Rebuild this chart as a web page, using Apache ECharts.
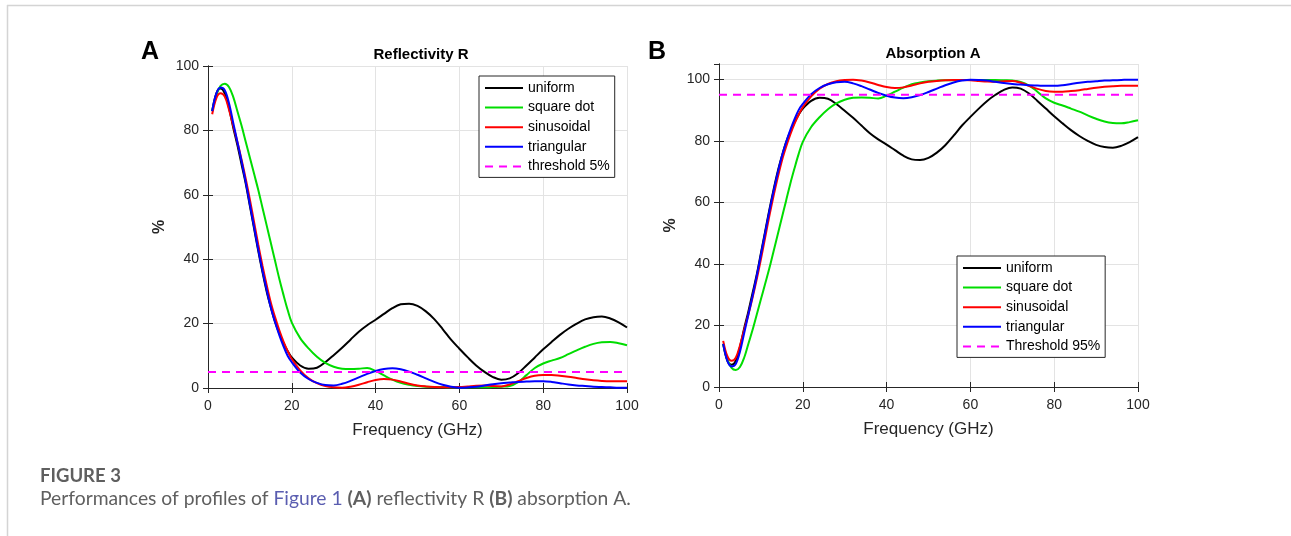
<!DOCTYPE html>
<html>
<head>
<meta charset="utf-8">
<script src="https://cdn.jsdelivr.net/npm/echarts@6/dist/echarts.min.js"></script>
<style>
html,body{margin:0;padding:0;background:#fff;}
#chart{width:1291px;height:536px;}
</style>
</head>
<body>
<div id="chart"></div>
<script>
// ---- Data ----
const freq = [1,2,3,4,5,6,7,8,9,10,11,12,13,14,15,16,17,18,19,20,
  22,24,26,28,30,32,34,36,38,40,42,44,46,48,50,52,54,56,58,60,
  62,64,66,68,70,72,74,76,78,80,82,84,86,88,90,92,94,96,98,100];

// Reflectivity R (%)
const rUniform = [86,91.5,93,91.5,87,81,75.5,69.5,63.5,56.5,49.5,42.5,36,30,25,20.5,17,14,11.5,9.5,
  7,6,6.3,8,10.2,12.5,15,17.5,19.5,21.2,23,24.8,26,26.2,25.5,23.8,21.4,18.3,15,12.2,
  9.5,7,5,3.4,2.6,3,4.6,7,9.5,12,14.3,16.5,18.4,20,21.3,22,22.2,21.6,20.4,18.8];
const rSquare = [86,91,93.8,94.5,93.5,90.5,86,81.5,76.5,71.5,66.5,61.5,56,50.5,45,39.5,34,29,24.3,20.3,
  15.5,12.3,9.7,7.8,6.6,6,5.9,6,6.2,5.3,3.9,2.6,1.6,1,0.6,0.4,0.3,0.3,0.2,0.2,
  0.2,0.2,0.2,0.3,0.4,0.6,1.8,4,6.2,7.6,8.5,9.3,10.5,11.7,12.8,13.7,14.2,14.3,13.9,13.3];
const rSinus = [85,90,91.5,90.5,86.5,81.5,76.5,71,65,58.5,51.5,44.5,38,32,26.5,22,18,14.5,11.5,9,
  5.5,3,1.5,0.6,0.2,0.1,0.4,1,1.8,2.5,2.8,2.6,2,1.3,0.8,0.5,0.3,0.2,0.2,0.3,
  0.5,0.7,0.8,0.6,0.5,1.1,2.1,3.1,3.8,4,4,3.8,3.5,3.1,2.7,2.4,2.2,2.1,2.1,2.1];
const rTriang = [86,91.5,93.3,92.5,88.5,82.5,76.5,70.5,64,57,50,43,36.5,30.5,25,20.5,16.5,13,10,8,
  4.8,2.8,1.6,0.9,0.8,1.3,2.2,3.3,4.4,5.3,5.9,6.1,5.8,5.1,4.1,3,1.9,1,0.4,0.1,
  0.2,0.4,0.8,1.2,1.5,1.7,1.9,2,2.1,2.1,1.9,1.5,1.1,0.8,0.6,0.4,0.3,0.2,0.1,0.1];

// Absorption A (%)
const aUniform = [14,8.5,7.2,8.5,13,19,24.5,30.5,36.5,43.5,50.5,57.5,64,70,75,79.5,83,86,88.5,90.5,
  93,94,93.7,92,89.8,87.5,85,82.5,80.5,78.8,77,75.2,74,73.8,74.5,76.2,78.6,81.7,85,87.8,
  90.5,93,95,96.6,97.4,97,95.4,93,90.5,88,85.7,83.5,81.6,80,78.7,78,77.8,78.4,79.6,81.2];
const aSquare = [14,9,6.2,5.5,6.5,9.5,14,18.5,23.5,28.5,33.5,38.5,44,49.5,55,60.5,66,71,75.7,79.7,
  84.5,87.7,90.3,92.2,93.4,94,94.1,94,93.8,94.7,96,97.3,98.4,99,99.4,99.6,99.7,99.7,99.8,99.8,
  99.8,99.8,99.8,99.7,99.6,99.2,98,96,93.8,92.4,91.5,90.5,89.5,88.3,87.2,86.3,85.8,85.7,86.1,86.7];
const aSinus = [15,10,8.5,9.5,13.5,18.5,23.5,29,35,41.5,48.5,55.5,62,68,73.5,78,82,85.5,88.5,91,
  94.5,97,98.5,99.4,99.8,99.9,99.6,99,98.2,97.5,97.2,97.4,98,98.7,99.2,99.5,99.7,99.8,99.8,99.7,
  99.5,99.3,99.2,99.4,99.5,98.9,97.9,96.9,96.2,96,96,96.2,96.5,96.9,97.3,97.6,97.8,97.9,97.9,97.9];
const aTriang = [14,8.5,6.7,7.5,11.5,17.5,23.5,29.5,36,43,50,57,63.5,69.5,75,79.5,83.5,87,90,92,
  95.2,97.2,98.4,99.1,99.2,98.7,97.8,96.7,95.6,94.7,94.1,93.9,94.2,94.9,95.9,97,98.1,99,99.6,99.9,
  99.8,99.6,99.2,98.8,98.5,98.3,98.1,98,97.9,97.9,98.1,98.5,98.9,99.2,99.4,99.6,99.7,99.8,99.9,99.9];

const thrX = [0, 100];
const rThreshold = [5, 5];
const aThreshold = [95, 95];

const seriesNames = ['uniform', 'square dot', 'sinusoidal', 'triangular'];
const rThresholdName = 'threshold 5%';
const aThresholdName = 'Threshold 95%';

// ---- Styling ----
const FONT = '"Liberation Sans", Arial, Helvetica, sans-serif';
const CAPFONT = 'Lato, "Open Sans", sans-serif';
const AX = '#262626';
const colors = ['#000000', '#00dd00', '#ff0000', '#0000ff'];
const thrColor = '#ff00ff';

function pts(xs, ys) { return xs.map((x, i) => [x, ys[i]]); }

function curve(name, data, color, gi) {
  return {
    type: 'line', name: name, xAxisIndex: gi, yAxisIndex: gi,
    data: pts(freq, data), smooth: 0.35, symbol: 'none',
    lineStyle: { color: color, width: 2 }, itemStyle: { color: color },
    animation: false
  };
}
function thr(name, ys, gi) {
  return {
    type: 'line', name: name, xAxisIndex: gi, yAxisIndex: gi,
    data: pts(thrX, ys), symbol: 'none',
    lineStyle: { color: thrColor, width: 2, type: [8, 6] }, itemStyle: { color: thrColor },
    animation: false
  };
}

function mainX(gi) {
  return {
    type: 'value', gridIndex: gi, min: 0, max: 100, interval: 20,
    name: 'Frequency (GHz)', nameLocation: 'middle', nameGap: 34,
    nameTextStyle: { fontFamily: FONT, fontSize: 17, color: AX },
    axisLine: { show: true, lineStyle: { color: AX, width: 1 } },
    axisTick: { show: true, inside: true, length: 5, lineStyle: { color: AX } },
    axisLabel: { fontFamily: FONT, fontSize: 14, color: AX, margin: 11 },
    splitLine: { show: true, lineStyle: { color: '#e3e3e3', width: 1 } }
  };
}
function mainY(gi, max) {
  return {
    type: 'value', gridIndex: gi, min: 0, max: max, interval: 20,
    name: '%', nameLocation: 'middle', nameGap: 40,
    nameTextStyle: { fontFamily: FONT, fontSize: 16, fontWeight: 'bold', color: AX },
    axisLine: { show: true, lineStyle: { color: AX, width: 1 } },
    axisTick: { show: true, inside: true, length: 5, lineStyle: { color: AX } },
    axisLabel: { fontFamily: FONT, fontSize: 14, color: AX, margin: 9, showMaxLabel: max === 100 },
    splitLine: { show: true, lineStyle: { color: '#e3e3e3', width: 1 } }
  };
}
function boxX(gi) {
  return {
    type: 'value', gridIndex: gi, position: 'top', min: 0, max: 100, interval: 20,
    axisLine: { show: true, lineStyle: { color: AX, width: 1 } },
    axisTick: { show: true, inside: true, length: 5, lineStyle: { color: AX } },
    axisLabel: { show: false }, splitLine: { show: false }
  };
}
function boxY(gi, max) {
  return {
    type: 'value', gridIndex: gi, position: 'right', min: 0, max: max, interval: 20,
    axisLine: { show: true, lineStyle: { color: AX, width: 1 } },
    axisTick: { show: true, inside: true, length: 5, lineStyle: { color: AX } },
    axisLabel: { show: false }, splitLine: { show: false }
  };
}
function legend(left, top, names) {
  return {
    left: left, top: top, orient: 'vertical',
    itemWidth: 38, itemHeight: 14, itemGap: 5.6,
    padding: [5, 5, 4, 5],
    borderColor: AX, borderWidth: 1, backgroundColor: '#ffffff',
    selectedMode: false,
    itemStyle: { opacity: 0 },
    textStyle: { fontFamily: FONT, fontSize: 14, color: '#000' },
    data: names
  };
}

const chart = echarts.init(document.getElementById('chart'), null, { renderer: 'canvas' });
chart.setOption({
  backgroundColor: '#ffffff',
  animation: false,
  title: [
    { text: 'Reflectivity R', left: 416, top: 42, textAlign: 'center',
      textStyle: { fontFamily: FONT, fontSize: 15, fontWeight: 'bold', color: '#000' } },
    { text: 'Absorption A', left: 928, top: 41, textAlign: 'center',
      textStyle: { fontFamily: FONT, fontSize: 15, fontWeight: 'bold', color: '#000' } }
  ],
  grid: [
    { left: 208, top: 66, width: 419, height: 322, containLabel: false },
    { left: 719, top: 64, width: 419, height: 323, containLabel: false }
  ],
  xAxis: [mainX(0), mainX(1), boxX(0), boxX(1)],
  yAxis: [mainY(0, 100), mainY(1, 105), boxY(0, 100), boxY(1, 105)],
  legend: [
    legend(479, 76, seriesNames.concat([rThresholdName])),
    legend(957, 256, seriesNames.concat([aThresholdName]))
  ],
  series: [
    curve(seriesNames[0], rUniform, colors[0], 0),
    curve(seriesNames[1], rSquare, colors[1], 0),
    curve(seriesNames[2], rSinus, colors[2], 0),
    curve(seriesNames[3], rTriang, colors[3], 0),
    thr(rThresholdName, rThreshold, 0),
    curve(seriesNames[0], aUniform, colors[0], 1),
    curve(seriesNames[1], aSquare, colors[1], 1),
    curve(seriesNames[2], aSinus, colors[2], 1),
    curve(seriesNames[3], aTriang, colors[3], 1),
    thr(aThresholdName, aThreshold, 1)
  ],
  graphic: [
    { type: 'line', shape: { x1: 7, y1: 5.5, x2: 1291, y2: 5.5 }, style: { stroke: '#d4d4d4', lineWidth: 1.5 }, silent: true },
    { type: 'line', shape: { x1: 7.5, y1: 5, x2: 7.5, y2: 536 }, style: { stroke: '#d4d4d4', lineWidth: 1.5 }, silent: true },
    { type: 'text', left: 141, top: 40, style: { text: 'A', font: 'bold 25px ' + FONT, fill: '#000' } },
    { type: 'text', left: 648, top: 40, style: { text: 'B', font: 'bold 25px ' + FONT, fill: '#000' } },
    { type: 'text', left: 40, top: 467, style: { text: 'FIGURE 3', font: 'bold 18.5px ' + CAPFONT, fill: '#5f5f5f' } },
    { type: 'text', left: 40, top: 489.5, style: {
        text: '{a|Performances of profiles of }{b|Figure 1}{a| }{c|(A)}{a| reflectivity R }{c|(B)}{a| absorption A.}',
        rich: {
          a: { fontFamily: CAPFONT, fontSize: 19.3, fill: '#5f5f5f', color: '#5f5f5f' },
          b: { fontFamily: CAPFONT, fontSize: 19.3, fill: '#5a5db0', color: '#5a5db0' },
          c: { fontFamily: CAPFONT, fontSize: 19.3, fontWeight: 'bold', fill: '#5f5f5f', color: '#5f5f5f' }
        } } }
  ]
});
</script>
</body>
</html>
